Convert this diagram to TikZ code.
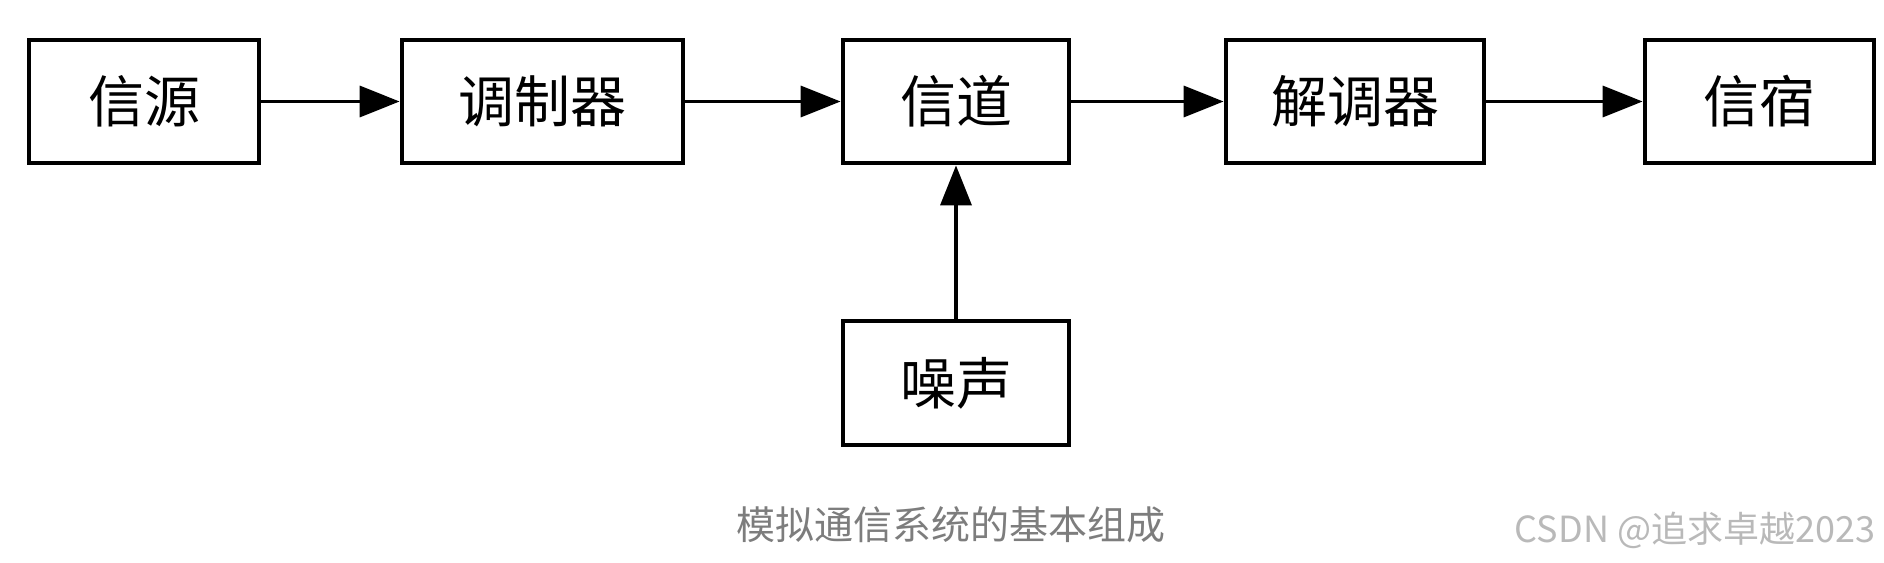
\documentclass[tikz,border=0pt]{standalone}
\usepackage{fontspec}
\newfontfamily\cjk{Noto Sans CJK SC}
\setmainfont{Liberation Sans}
\usetikzlibrary{arrows.meta}
\definecolor{capgray}{RGB}{125,125,125}
\definecolor{wmgray}{RGB}{185,185,185}
\begin{document}
\begin{tikzpicture}[x=0.5pt,y=0.5pt,
  blockbox/.style={draw=black,line width=2.4pt,fill=white,minimum height=61.5pt,inner sep=0pt,font=\cjk\fontsize{28}{30}\selectfont},
  flowarrow/.style={line width=1.8pt,-{Triangle[length=20pt,width=15.5pt]}}]
\useasboundingbox (0,0) rectangle (1884,-562);
\node[blockbox,minimum width=115pt] (src) at (144,-101.5) {信源};
\node[blockbox,minimum width=140.5pt] (mod) at (542.5,-101.5) {调制器};
\node[blockbox,minimum width=113pt] (ch) at (956,-101.5) {信道};
\node[blockbox,minimum width=129pt] (dem) at (1355,-101.5) {解调器};
\node[blockbox,minimum width=114.5pt] (snk) at (1759.5,-101.5) {信宿};
\node[blockbox,minimum width=113pt,minimum height=62pt] (noise) at (956,-383) {噪声};
\draw[flowarrow] (src) -- (mod);
\draw[flowarrow] (mod) -- (ch);
\draw[flowarrow] (ch) -- (dem);
\draw[flowarrow] (dem) -- (snk);
\draw[flowarrow] (noise) -- (ch);
\node[text=capgray,font=\cjk\fontsize{19.5}{22}\selectfont] (cap) at (951,-525) {模拟通信系统的基本组成};
\node[text=wmgray,font=\cjk\fontsize{18}{20}\selectfont] (wm) at (1695,-530) {CSDN @追求卓越2023};
\end{tikzpicture}
\end{document}
